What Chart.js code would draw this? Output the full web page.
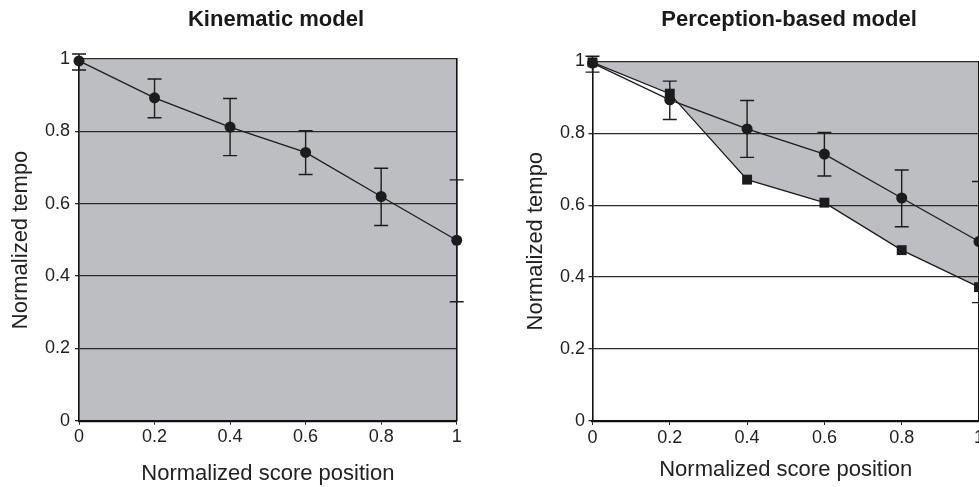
<!DOCTYPE html>
<html>
<head>
<meta charset="utf-8">
<script src="https://cdn.jsdelivr.net/npm/chart.js@4.4.1/dist/chart.umd.min.js"></script>
<style>
  body { margin: 0; background: #fff; overflow: hidden; width: 979px; height: 487px; position: relative; }
  canvas { position: absolute; top: 0; }
  #kinematic { left: 0; }
  #perception { left: 490px; }
</style>
</head>
<body>
<canvas id="kinematic" width="552" height="487"></canvas>
<canvas id="perception" width="598" height="487"></canvas>
<script>
const SCORE_POS = [0, 0.2, 0.4, 0.6, 0.8, 1]
const TEMPO_MEAN = [0.995, 0.893, 0.812, 0.742, 0.62, 0.499]
const TEMPO_LOW = [0.97, 0.838, 0.733, 0.681, 0.54, 0.329]
const TEMPO_HIGH = [1.014, 0.945, 0.891, 0.802, 0.698, 0.666]
const PERCEPTION_MODEL = [0.997, 0.91, 0.671, 0.607, 0.475, 0.372]
const TICKS = [0, 0.2, 0.4, 0.6, 0.8, 1]

const GRAY = '#bdbec2'
const INK = '#1c1c1c'

Chart.defaults.font.family = "'Liberation Sans', Arial, sans-serif"
Chart.defaults.color = '#222'

const toPoints = (values) => SCORE_POS.map((x, i) => ({ x: x, y: values[i] }))

// vertical error bars, drawn under the lines and markers
const errorBars = {
  id: 'errorBars',
  beforeDatasetsDraw(chart) {
    const { ctx, scales: { x, y } } = chart
    chart.data.datasets.forEach(ds => {
      if (!ds.errLow) return
      ctx.save()
      ctx.strokeStyle = INK
      ctx.lineWidth = 1.4
      ds.data.forEach((p, i) => {
        const px = x.getPixelForValue(p.x)
        const top = y.getPixelForValue(ds.errHigh[i])
        const bot = y.getPixelForValue(ds.errLow[i])
        ctx.beginPath()
        ctx.moveTo(px, top); ctx.lineTo(px, bot)
        ctx.moveTo(px - 7, top); ctx.lineTo(px + 7, top)
        ctx.moveTo(px - 7, bot); ctx.lineTo(px + 7, bot)
        ctx.stroke()
      })
      ctx.restore()
    })
  }
}

const areaBackground = {
  id: 'areaBackground',
  beforeDraw(chart, args, opts) {
    if (!opts.color) return
    const { ctx, chartArea: a } = chart
    ctx.save()
    ctx.fillStyle = opts.color
    ctx.fillRect(a.left, a.top, a.right - a.left, a.bottom - a.top)
    ctx.restore()
  }
}

const meanDataset = {
  label: 'Measured',
  data: toPoints(TEMPO_MEAN),
  errLow: TEMPO_LOW,
  errHigh: TEMPO_HIGH,
  borderColor: INK,
  borderWidth: 1.3,
  pointStyle: 'circle',
  pointRadius: 5.5,
  pointBackgroundColor: INK,
  pointBorderWidth: 0,
  fill: false,
  clip: false,
  order: 1
}

const makeChart = (id, title, datasets, lay) => {
  const ctx = document.getElementById(id)
  return new Chart(ctx, {
    type: 'line',
    data: { datasets: datasets },
    options: {
      responsive: false,
      animation: false,
      layout: { padding: 0 },
      plugins: {
        legend: { display: false },
        tooltip: { enabled: false },
        filler: { drawTime: 'beforeDraw' },
        areaBackground: { color: lay.background },
        title: {
          display: true,
          text: title,
          color: '#1a1a1a',
          font: { size: 22, weight: 'bold', lineHeight: 1.2 },
          padding: lay.titlePad
        }
      },
      scales: {
        x: {
          type: 'linear',
          min: 0,
          max: 1,
          afterBuildTicks: s => { s.ticks = TICKS.map(v => ({ value: v })) },
          afterFit: s => { s.height = lay.xHeight },
          grid: { drawOnChartArea: false, drawTicks: true, tickLength: 4, color: INK },
          border: { color: '#111', width: 2.2 },
          ticks: { font: { size: 18 }, padding: 2, maxRotation: 0, callback: v => String(v) },
          title: {
            display: true,
            text: 'Normalized score position',
            font: { size: 22, lineHeight: 1.2 },
            padding: { top: 0, bottom: lay.xTitleBottom }
          }
        },
        y: {
          type: 'linear',
          min: 0,
          max: 1,
          afterBuildTicks: s => { s.ticks = TICKS.map(v => ({ value: v })) },
          afterFit: s => { s.width = lay.yWidth },
          grid: { color: '#2a2a2a', lineWidth: 1.3, drawTicks: true, tickLength: 4 },
          border: { color: '#111', width: 1.6 },
          ticks: { font: { size: 18 }, padding: lay.yTickPad, callback: v => String(v) },
          title: {
            display: true,
            text: 'Normalized tempo',
            font: { size: 22, lineHeight: 1.2 },
            padding: { top: lay.yTitleTop, bottom: 0 }
          }
        },
        yR: {
          type: 'linear',
          position: 'right',
          min: 0,
          max: 1,
          afterFit: s => { s.width = lay.rightWidth },
          grid: { display: false },
          ticks: { display: false },
          border: { display: true, color: '#111', width: 1.6 }
        }
      }
    },
    plugins: [areaBackground, errorBars]
  })
}

makeChart('kinematic', 'Kinematic model', [meanDataset], {
  background: GRAY,
  titlePad: { top: 7.2, bottom: 25.5 },
  xHeight: 66.3,
  xTitleBottom: 0,
  yWidth: 79,
  yTickPad: 5,
  yTitleTop: 7.8,
  rightWidth: 95.3
})

makeChart('perception', 'Perception-based model', [
  Object.assign({}, meanDataset, { data: toPoints(TEMPO_MEAN) }),
  {
    label: 'Perception-based model',
    data: toPoints(PERCEPTION_MODEL),
    borderColor: INK,
    borderWidth: 1.3,
    pointStyle: 'rect',
    pointRadius: 7,
    pointBackgroundColor: INK,
    pointBorderWidth: 0,
    backgroundColor: GRAY,
    fill: 'end',
    clip: false,
    order: 2
  }
], {
  background: null,
  titlePad: { top: 7.2, bottom: 27.7 },
  xHeight: 66,
  xTitleBottom: 3.5,
  yWidth: 102.5,
  yTickPad: 3.5,
  yTitleTop: 32.8,
  rightWidth: 109
})
</script>
</body>
</html>
